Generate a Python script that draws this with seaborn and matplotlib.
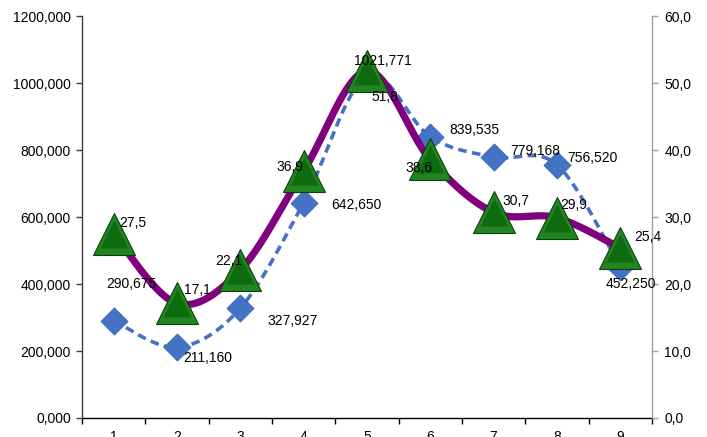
import numpy as np
import pandas as pd
import matplotlib
matplotlib.use("Agg")
import matplotlib.pyplot as plt
from matplotlib.ticker import FuncFormatter, FixedLocator
import seaborn as sns

# Data
categories = [1, 2, 3, 4, 5, 6, 7, 8, 9]
volume = [290675, 211160, 327927, 642650, 1021771, 839535, 779168, 756520, 452250]
rate = [27.5, 17.1, 22.1, 36.9, 51.8, 38.6, 30.7, 29.9, 25.4]
volume_labels = ["290,675", "211,160", "327,927", "642,650", "1021,771",
                 "839,535", "779,168", "756,520", "452,250"]
rate_labels = ["27,5", "17,1", "22,1", "36,9", "51,8", "38,6", "30,7", "29,9", "25,4"]


def smooth_curve(xs, ys, n=40):
    """Bezier smoothing through every point (control points at 1/6 of the neighbour chord)."""
    xs = np.asarray(xs, float)
    ys = np.asarray(ys, float)
    px = np.concatenate([[xs[0]], xs, [xs[-1]]])
    py = np.concatenate([[ys[0]], ys, [ys[-1]]])
    out_x, out_y = [], []
    t = np.linspace(0, 1, n)
    for i in range(1, len(px) - 2):
        p0 = np.array([px[i], py[i]])
        p3 = np.array([px[i + 1], py[i + 1]])
        c1 = p0 + (np.array([px[i + 1], py[i + 1]]) - np.array([px[i - 1], py[i - 1]])) / 6
        c2 = p3 - (np.array([px[i + 2], py[i + 2]]) - np.array([px[i], py[i]])) / 6
        b = ((1 - t) ** 3)[:, None] * p0 + (3 * (1 - t) ** 2 * t)[:, None] * c1 \
            + (3 * (1 - t) * t ** 2)[:, None] * c2 + (t ** 3)[:, None] * p3
        out_x.extend(b[:, 0])
        out_y.extend(b[:, 1])
    return np.array(out_x), np.array(out_y)


sns.set_theme(style="white")
plt.rcParams["font.family"] = ["Liberation Sans", "DejaVu Sans"]
plt.rcParams["font.size"] = 10

fig = plt.figure(figsize=(7.07, 4.37), dpi=100)
ax = fig.add_axes([0.116, 0.0435, 0.806, 0.9195])
ax2 = ax.twinx()

# Primary series: dashed blue with diamonds
vx, vy = smooth_curve(categories, volume)
sns.lineplot(x=vx, y=vy, ax=ax, sort=False, color="#4472C4", linewidth=2.6,
             dashes=False, zorder=2).lines[-1].set_dashes((2.4, 1.5))
sns.scatterplot(x=categories, y=volume, ax=ax, marker="D", s=190, color="#4472C4",
                edgecolor="#3A66B5", linewidth=0.6, zorder=3)

# Secondary series: thick purple curve with bevelled green triangles
rx, ry = smooth_curve(categories, rate)
sns.lineplot(x=rx, y=ry, ax=ax2, sort=False, color="#800080", linewidth=5.2, zorder=2)
ax2.plot(categories, rate, linestyle="none", marker="^", markersize=30,
         markerfacecolor="#228522", markeredgecolor="#0A400A", markeredgewidth=0.8, zorder=3)
ax2.plot(categories, rate, linestyle="none", marker="^", markersize=20,
         markerfacecolor="#0E6C0E", markeredgecolor="none", zorder=4)

# Value labels
vol_offsets = [(13, 26.5), (22, -8), (38, -9), (38, -1.5), (11.5, 11), (31.5, 5),
               (30, 4.5), (25.7, 4.5), (8, -12.7)]
rate_offsets = [(14, 8), (15, 10), (-8, 6.6), (-10, 2.5), (13, -19), (-8, -6.4),
                (16, 8), (12, 9), (20, 7.6)]
for x, y, lab, (dx, dy) in zip(categories, volume, volume_labels, vol_offsets):
    ax2.annotate(lab, xy=(x, y / 20000), xytext=(dx, dy), textcoords="offset points",
                 ha="center", va="center", fontsize=10, color="black", zorder=6)
for x, y, lab, (dx, dy) in zip(categories, rate, rate_labels, rate_offsets):
    ax2.annotate(lab, xy=(x, y), xytext=(dx, dy), textcoords="offset points",
                 ha="center", va="center", fontsize=10, color="black", zorder=6)

# Axes limits and ticks
ax.set_xlim(0.5, 9.5)
ax.set_ylim(0, 1200000)
ax2.set_ylim(0, 60)
ax.set_yticks(np.arange(0, 1200001, 200000))
ax.yaxis.set_major_formatter(FuncFormatter(lambda v, p: f"{int(round(v / 1000))},000"))
ax2.set_yticks(np.arange(0, 61, 10))
ax2.yaxis.set_major_formatter(FuncFormatter(lambda v, p: f"{v:.1f}".replace(".", ",")))

ax.xaxis.set_major_locator(FixedLocator(categories))
ax.set_xticklabels([str(c) for c in categories])
ax.xaxis.set_minor_locator(FixedLocator(np.arange(0.5, 9.6, 1.0)))
ax.tick_params(axis="x", which="major", length=0, pad=9, labelsize=10)
ax.tick_params(axis="x", which="minor", length=4.5, width=1, color="black", direction="out", bottom=True)
ax.tick_params(axis="y", which="major", length=4, width=1, color="#404040", direction="out",
               left=True, labelsize=10, pad=4)
ax2.tick_params(axis="y", which="major", length=4, width=1, color="#A0A0A0", direction="out",
                right=True, labelsize=10, pad=5)

ax.grid(False)
ax2.grid(False)
ax.set_xlabel("")
ax.set_ylabel("")
ax2.set_ylabel("")
for a in (ax, ax2):
    a.spines["top"].set_visible(False)
ax.spines["left"].set_color("#404040")
ax.spines["bottom"].set_color("black")
ax.spines["right"].set_visible(False)
ax2.spines["left"].set_visible(False)
ax2.spines["bottom"].set_visible(False)
ax2.spines["right"].set_color("#A0A0A0")
for a in (ax, ax2):
    for s in a.spines.values():
        s.set_linewidth(1)
for t in ax.get_xticklabels() + ax.get_yticklabels() + ax2.get_yticklabels():
    t.set_color("black")

fig.savefig("out.png", dpi=100)
